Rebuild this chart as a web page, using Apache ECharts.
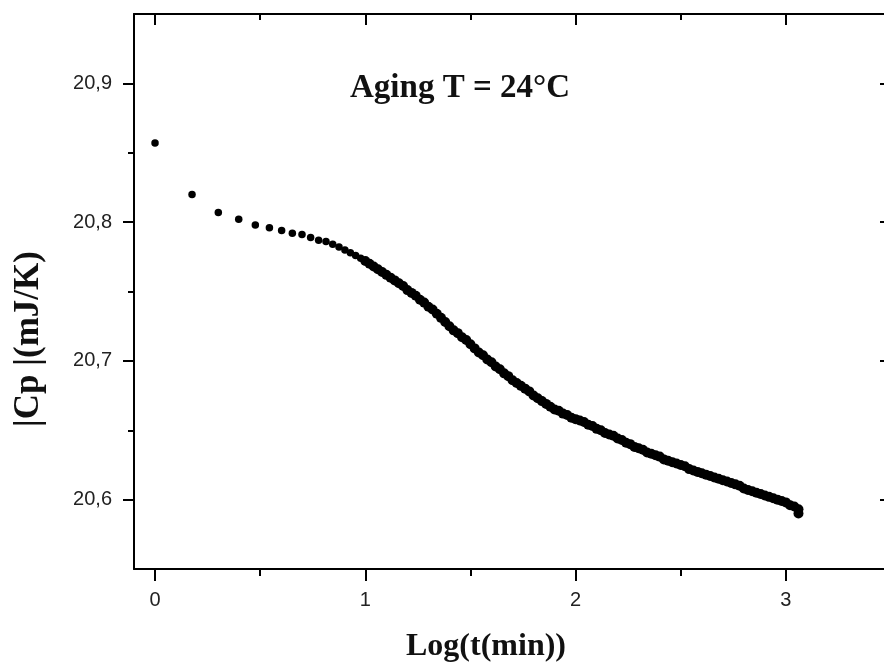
<!DOCTYPE html>
<html>
<head>
<meta charset="utf-8">
<script src="https://cdn.jsdelivr.net/npm/echarts@6/dist/echarts.min.js"></script>
<style>
html,body{margin:0;padding:0;background:#fff;}
#chart{width:884px;height:671px;}
</style>
</head>
<body>
<div id="chart"></div>
<script>
// log10(t / min)
var logTime = [
  0, 0.176, 0.301, 0.398, 0.477, 0.544, 0.602, 0.653, 0.699, 0.740, 0.778, 0.813, 0.845, 0.875, 0.903, 0.929, 0.954, 0.978,
  1.00, 1.02, 1.04, 1.06, 1.08, 1.10, 1.12, 1.14, 1.16, 1.18, 1.20, 1.22, 1.24, 1.26, 1.28, 1.30, 1.32, 1.34, 1.36, 1.38,
  1.40, 1.42, 1.44, 1.46, 1.48, 1.50, 1.52, 1.54, 1.56, 1.58, 1.60, 1.62, 1.64, 1.66, 1.68, 1.70, 1.72, 1.74, 1.76, 1.78,
  1.80, 1.82, 1.84, 1.86, 1.88, 1.90, 1.92, 1.94, 1.96, 1.98, 2.00, 2.02, 2.04, 2.06, 2.08, 2.10, 2.12, 2.14, 2.16, 2.18,
  2.20, 2.22, 2.24, 2.26, 2.28, 2.30, 2.32, 2.34, 2.36, 2.38, 2.40, 2.42, 2.44, 2.46, 2.48, 2.50, 2.52, 2.54, 2.56, 2.58,
  2.60, 2.62, 2.64, 2.66, 2.68, 2.70, 2.72, 2.74, 2.76, 2.78, 2.80, 2.82, 2.84, 2.86, 2.88, 2.90, 2.92, 2.94, 2.96, 2.98,
  3.00, 3.02, 3.04, 3.06, 3.06
];
// |Cp| (mJ/K)
var cpValues = [
  20.857, 20.820, 20.807, 20.802, 20.798, 20.796, 20.794, 20.792, 20.791, 20.789, 20.787, 20.786, 20.784, 20.782, 20.780, 20.778, 20.776, 20.774,
  20.772, 20.770, 20.768, 20.766, 20.764, 20.762, 20.760, 20.758, 20.756, 20.754, 20.751, 20.749, 20.747, 20.744, 20.742, 20.739, 20.737, 20.734, 20.731, 20.728,
  20.725, 20.722, 20.720, 20.717, 20.715, 20.712, 20.709, 20.706, 20.704, 20.701, 20.699, 20.696, 20.694, 20.691, 20.689, 20.686, 20.684, 20.682, 20.680, 20.678,
  20.675, 20.673, 20.671, 20.669, 20.667, 20.665, 20.664, 20.662, 20.661, 20.659, 20.658, 20.657, 20.656, 20.654, 20.653, 20.651, 20.650, 20.648, 20.647, 20.646,
  20.644, 20.643, 20.641, 20.640, 20.638, 20.637, 20.636, 20.634, 20.633, 20.632, 20.631, 20.629, 20.628, 20.627, 20.626, 20.625, 20.624, 20.622, 20.621, 20.620,
  20.619, 20.618, 20.617, 20.616, 20.615, 20.614, 20.613, 20.612, 20.611, 20.610, 20.608, 20.607, 20.606, 20.605, 20.604, 20.603, 20.602, 20.601, 20.600, 20.599,
  20.598, 20.596, 20.595, 20.593, 20.590
];

var xMajorTicks = [0, 1, 2, 3];
var xMinorTicks = [0.5, 1.5, 2.5, 3.5];
var yMajorTicks = [20.6, 20.7, 20.8, 20.9];
var yMinorTicks = [20.65, 20.75, 20.85];
var xRange = [-0.1, 3.5];
var yRange = [20.55, 20.95];

var xAxisTitle = 'Log(t(min))';
var yAxisTitle = '|Cp |(mJ/K)';
var annotation = 'Aging T = 24\u00B0C';

var points = logTime.map(function (x, i) { return [x, cpValues[i]]; });

var lineStyle = { color: '#000', width: 2 };
var labelFont = { color: '#222', fontSize: 20, fontFamily: 'Liberation Sans, Arial, sans-serif' };

function xAx(pos, ticks, len, inside, showLine, showLabel) {
  return {
    type: 'value', position: pos, min: xRange[0], max: xRange[1],
    axisLine: { show: showLine, onZero: false, lineStyle: lineStyle },
    axisTick: { show: true, inside: inside, length: len, customValues: ticks, lineStyle: { color: '#000', width: 2 } },
    axisLabel: showLabel ? Object.assign({ show: true, margin: 21, customValues: ticks,
      formatter: function (v) { return String(v); } }, labelFont) : { show: false },
    splitLine: { show: false }
  };
}
function yAx(pos, ticks, len, inside, showLine, showLabel) {
  return {
    type: 'value', position: pos, min: yRange[0], max: yRange[1],
    axisLine: { show: showLine, onZero: false, lineStyle: lineStyle },
    axisTick: { show: true, inside: inside, length: len, customValues: ticks, lineStyle: { color: '#000', width: 2 } },
    axisLabel: showLabel ? Object.assign({ show: true, margin: 22, customValues: ticks,
      formatter: function (v) { return v.toFixed(1).replace('.', ','); } }, labelFont) : { show: false },
    splitLine: { show: false }
  };
}

var chart = echarts.init(document.getElementById('chart'), null, { renderer: 'canvas' });
chart.setOption({
  animation: false,
  backgroundColor: '#fff',
  grid: { left: 134, top: 14, width: 757, height: 555, containLabel: false, outerBoundsMode: 'none' },
  xAxis: [
    xAx('bottom', xMajorTicks, 12, false, true, true),
    xAx('bottom', xMinorTicks, 7, false, false, false),
    xAx('top', xMajorTicks, 11, true, true, false),
    xAx('top', xMinorTicks, 6, true, false, false)
  ],
  yAxis: [
    yAx('left', yMajorTicks, 11, false, true, true),
    yAx('left', yMinorTicks, 6, false, false, false),
    yAx('right', yMajorTicks, 11, true, true, false),
    yAx('right', yMinorTicks, 6, true, false, false)
  ],
  series: [{
    type: 'scatter',
    xAxisIndex: 0, yAxisIndex: 0,
    symbol: 'circle',
    symbolSize: function (v) { return v[0] < 0.99 ? 7.5 : 10; },
    itemStyle: { color: '#000', opacity: 1 },
    data: points
  }],
  graphic: [
    { type: 'text', x: 29, y: 339, rotation: Math.PI / 2,
      style: { text: yAxisTitle, fill: '#111', font: 'bold 35px "Liberation Serif", "Times New Roman", serif',
        textAlign: 'center', textVerticalAlign: 'middle' } },
    { type: 'text', x: 486, y: 647,
      style: { text: xAxisTitle, fill: '#111', font: 'bold 32px "Liberation Serif", "Times New Roman", serif',
        textAlign: 'center', textVerticalAlign: 'middle' } },
    { type: 'text', x: 460, y: 88,
      style: { text: annotation, fill: '#111', font: 'bold 33px "Liberation Serif", "Times New Roman", serif',
        textAlign: 'center', textVerticalAlign: 'middle' } }
  ]
});
</script>
</body>
</html>
